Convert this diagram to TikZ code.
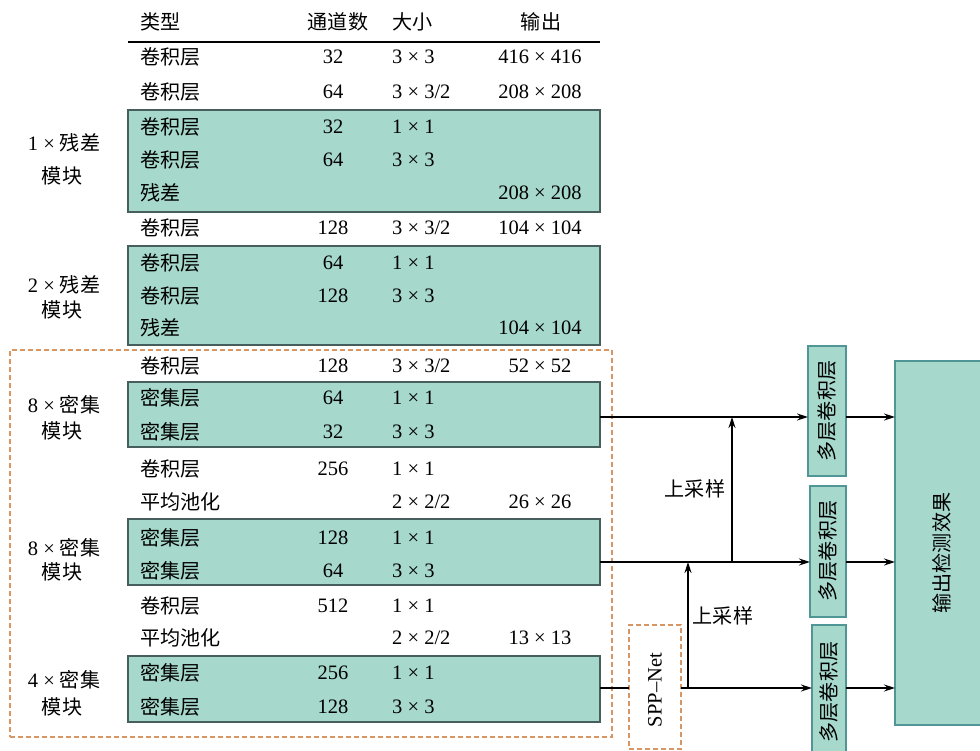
\documentclass[tikz,border=0pt]{standalone}
\usepackage{fontspec}
\setmainfont{Liberation Serif}
\newfontfamily\cjk[Scale=0.98]{Noto Sans CJK SC}
\usetikzlibrary{arrows.meta}
\definecolor{gfill}{RGB}{166,216,204}
\definecolor{gedge}{RGB}{70,95,92}
\definecolor{tedge}{RGB}{80,150,150}
\definecolor{odash}{RGB}{215,150,100}
\begin{document}
\begin{tikzpicture}[x=1pt,y=-1pt,
 txt/.style={inner sep=0pt,font=\fontsize{20.5}{24}\selectfont},
 lt/.style={txt,anchor=west},
 gbox/.style={draw=gedge,fill=gfill,line width=1.4pt,inner sep=0pt,outer sep=0pt,minimum width=472pt,anchor=north west},
 mbox/.style={draw=tedge,fill=gfill,line width=1.4pt,inner sep=0pt,outer sep=0pt,anchor=north west},
 obox/.style={draw=odash,line width=1.4pt,dash pattern=on 5pt off 3pt,inner sep=0pt,outer sep=0pt,anchor=north west},
 arr/.style={-{Stealth[length=11pt,width=7pt]},line width=1.3pt},
 ln/.style={line width=1.3pt}]
\useasboundingbox (0,0) rectangle (980,751);
% dashed frames
\node[obox,minimum width=602pt,minimum height=387pt] (dense) at (10,350) {};
% green boxes
\node[gbox,minimum height=102pt] (g1) at (128,110) {};
\node[gbox,minimum height=99pt] (g2) at (128,246) {};
\node[gbox,minimum height=65pt] (g3) at (128,382) {};
\node[gbox,minimum height=66pt] (g4) at (128,519) {};
\node[gbox,minimum height=66pt] (g5) at (128,656) {};
% header
\node[lt] (h1) at (140,22) {\cjk 类型};
\node[txt] (h2) at (338,22) {\cjk 通道数};
\node[lt] (h3) at (392,22) {\cjk 大小};
\node[txt] (h4) at (541,22) {\cjk 输出};
\draw[line width=2pt] (128,42) coordinate (hl1) -- (600,42) coordinate (hl2);
% rows
\node[lt] (r1t) at (140,57) {\cjk 卷积层}; \node[txt] (r1c) at (333,57) {32}; \node[lt] (r1s) at (392,57) {3 × 3}; \node[txt] (r1o) at (540,57) {416 × 416};
\node[lt] (r2t) at (140,92) {\cjk 卷积层}; \node[txt] (r2c) at (333,92) {64}; \node[lt] (r2s) at (392,92) {3 × 3/2}; \node[txt] (r2o) at (540,92) {208 × 208};
\node[lt] (r3t) at (140,127) {\cjk 卷积层}; \node[txt] (r3c) at (333,127) {32}; \node[lt] (r3s) at (392,127) {1 × 1};
\node[lt] (r4t) at (140,160) {\cjk 卷积层}; \node[txt] (r4c) at (333,160) {64}; \node[lt] (r4s) at (392,160) {3 × 3};
\node[lt] (r5t) at (140,193) {\cjk 残差}; \node[txt] (r5o) at (540,193) {208 × 208};
\node[lt] (r6t) at (140,228) {\cjk 卷积层}; \node[txt] (r6c) at (333,228) {128}; \node[lt] (r6s) at (392,228) {3 × 3/2}; \node[txt] (r6o) at (540,228) {104 × 104};
\node[lt] (r7t) at (140,263) {\cjk 卷积层}; \node[txt] (r7c) at (333,263) {64}; \node[lt] (r7s) at (392,263) {1 × 1};
\node[lt] (r8t) at (140,296) {\cjk 卷积层}; \node[txt] (r8c) at (333,296) {128}; \node[lt] (r8s) at (392,296) {3 × 3};
\node[lt] (r9t) at (140,328) {\cjk 残差}; \node[txt] (r9o) at (540,328) {104 × 104};
\node[lt] (r10t) at (140,366) {\cjk 卷积层}; \node[txt] (r10c) at (333,366) {128}; \node[lt] (r10s) at (392,366) {3 × 3/2}; \node[txt] (r10o) at (540,366) {52 × 52};
\node[lt] (r11t) at (140,398) {\cjk 密集层}; \node[txt] (r11c) at (333,398) {64}; \node[lt] (r11s) at (392,398) {1 × 1};
\node[lt] (r12t) at (140,432) {\cjk 密集层}; \node[txt] (r12c) at (333,432) {32}; \node[lt] (r12s) at (392,432) {3 × 3};
\node[lt] (r13t) at (140,469) {\cjk 卷积层}; \node[txt] (r13c) at (333,469) {256}; \node[lt] (r13s) at (392,469) {1 × 1};
\node[lt] (r14t) at (140,502) {\cjk 平均池化}; \node[lt] (r14s) at (392,502) {2 × 2/2}; \node[txt] (r14o) at (540,502) {26 × 26};
\node[lt] (r15t) at (140,538) {\cjk 密集层}; \node[txt] (r15c) at (333,538) {128}; \node[lt] (r15s) at (392,538) {1 × 1};
\node[lt] (r16t) at (140,571) {\cjk 密集层}; \node[txt] (r16c) at (333,571) {64}; \node[lt] (r16s) at (392,571) {3 × 3};
\node[lt] (r17t) at (140,606) {\cjk 卷积层}; \node[txt] (r17c) at (333,606) {512}; \node[lt] (r17s) at (392,606) {1 × 1};
\node[lt] (r18t) at (140,638) {\cjk 平均池化}; \node[lt] (r18s) at (392,638) {2 × 2/2}; \node[txt] (r18o) at (540,638) {13 × 13};
\node[lt] (r19t) at (140,673) {\cjk 密集层}; \node[txt] (r19c) at (333,673) {256}; \node[lt] (r19s) at (392,673) {1 × 1};
\node[lt] (r20t) at (140,707) {\cjk 密集层}; \node[txt] (r20c) at (333,707) {128}; \node[lt] (r20s) at (392,707) {3 × 3};
% left labels
\node[txt] (l1a) at (64,143) {1 × {\cjk 残差}}; \node[txt] (l1b) at (62,176) {\cjk 模块};
\node[txt] (l2a) at (64,285) {2 × {\cjk 残差}}; \node[txt] (l2b) at (62,310) {\cjk 模块};
\node[txt] (l3a) at (64,405) {8 × {\cjk 密集}}; \node[txt] (l3b) at (62,431) {\cjk 模块};
\node[txt] (l4a) at (64,548) {8 × {\cjk 密集}}; \node[txt] (l4b) at (62,572) {\cjk 模块};
\node[txt] (l5a) at (64,680) {4 × {\cjk 密集}}; \node[txt] (l5b) at (62,707) {\cjk 模块};
% right part
\node[obox,minimum width=52pt,minimum height=124pt] (spp) at (629,625) {};
\node[txt,rotate=90] (sppt) at (655,690) {SPP–Net};
\node[mbox,minimum width=38pt,minimum height=130pt] (m1) at (808,346) {};
\node[mbox,minimum width=36pt,minimum height=131pt] (m2) at (810,486) {};
\node[mbox,minimum width=34pt,minimum height=135pt] (m3) at (812,625) {};
\node[txt,rotate=90] (m1t) at (827,411) {\cjk 多层卷积层};
\node[txt,rotate=90] (m2t) at (828,551) {\cjk 多层卷积层};
\node[txt,rotate=90] (m3t) at (829,692) {\cjk 多层卷积层};
\node[mbox,minimum width=95pt,minimum height=364pt] (out) at (895,361) {};
\node[txt,rotate=90] (outt) at (942,553) {\cjk 输出检测效果};
% connectors
\coordinate (ya) at (0,417);
\coordinate (yb) at (0,562);
\coordinate (yc) at (0,688);
\coordinate (u1) at (732,562);
\coordinate (u2) at (688,688);
\draw[arr] (g3.east |- ya) -- (m1.west |- ya);
\draw[arr] (g4.east |- yb) -- (m2.west |- yb);
\draw[ln] (g5.east |- yc) -- (spp.west |- yc);
\draw[arr] (spp.east |- yc) -- (m3.west |- yc);
\draw[arr] (u1) -- (u1 |- ya);
\draw[arr] (u2) -- (u2 |- yb);
\draw[arr] (m1.east |- ya) -- (out.west |- ya);
\draw[arr] (m2.east |- yb) -- (out.west |- yb);
\draw[arr] (m3.east |- yc) -- (out.west |- yc);
\node[txt] (up1) at (695,489) {\cjk 上采样};
\node[txt] (up2) at (723,616) {\cjk 上采样};
\end{tikzpicture}
\end{document}
